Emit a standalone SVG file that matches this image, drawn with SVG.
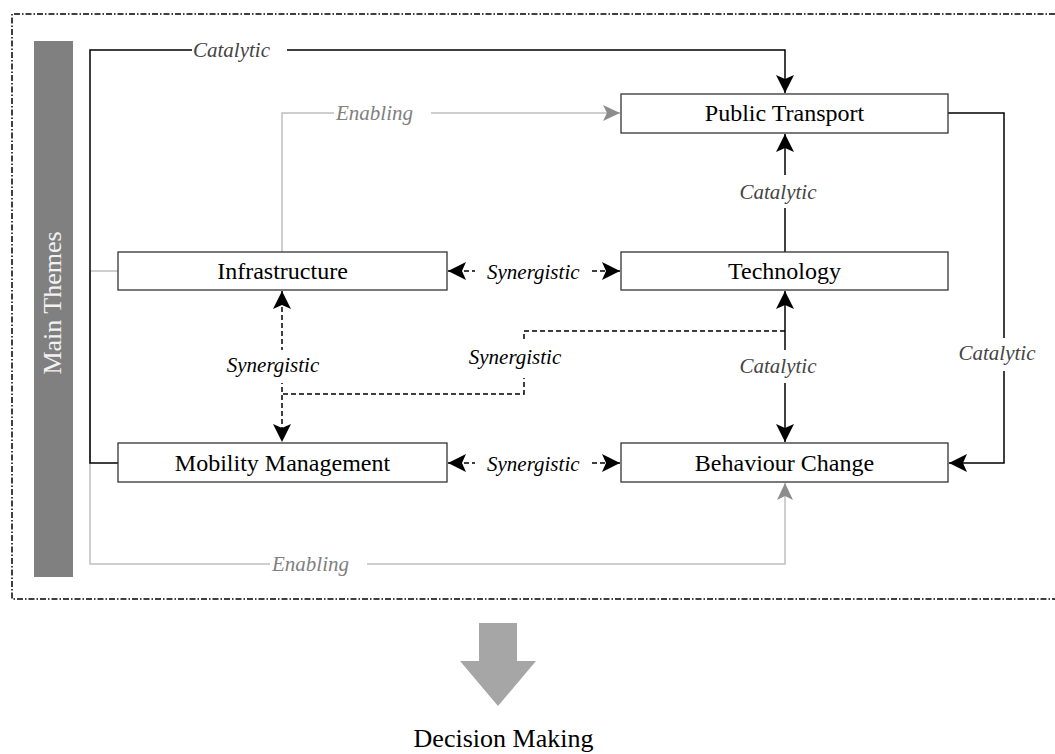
<svg xmlns="http://www.w3.org/2000/svg" width="1055" height="754" viewBox="0 0 1055 754">
<style>
.box{fill:#fff;stroke:#333;stroke-width:1.3}
.nt{font-family:"Liberation Serif","Times New Roman",serif;font-size:24px;fill:#000;text-anchor:middle}
.lbl{font-family:"Liberation Serif","Times New Roman",serif;font-size:21px;font-style:italic}
.cat{fill:#444}
.ena{fill:#808080}
.syn{fill:#000}
.blk{fill:none;stroke:#000;stroke-width:1.5}
.gry{fill:none;stroke:#bfbfbf;stroke-width:1.5}
.dsh{fill:none;stroke:#000;stroke-width:1.5;stroke-dasharray:5,3}
.gap{fill:#fff;stroke:none}
</style>
<defs>
<marker id="ab" markerUnits="userSpaceOnUse" viewBox="-20 -10 21 20" refX="0" refY="0" markerWidth="21" markerHeight="20" orient="auto-start-reverse">
<path d="M0,0 L-18,-9 L-14,0 L-18,9 Z" fill="#000"/>
</marker>
<marker id="ag" markerUnits="userSpaceOnUse" viewBox="-20 -10 21 20" refX="0" refY="0" markerWidth="21" markerHeight="20" orient="auto-start-reverse">
<path d="M0,0 L-17,-8 L-13,0 L-17,8 Z" fill="#8c8c8c"/>
</marker>
</defs>
<rect width="1055" height="754" fill="#fff"/>
<g id="frame">
<path d="M1055,14 H12 V599 H1055" fill="none" stroke="#000" stroke-width="1.5" stroke-dasharray="6,2,1.5,2"/>
<rect x="34" y="41" width="39" height="536" fill="#808080"/>
<text transform="translate(61,303) rotate(-90)" font-family="'Liberation Serif','Times New Roman',serif" font-size="26" fill="#f2f2f2" text-anchor="middle">Main Themes</text>
</g>
<g id="connectors">
<path class="gry" d="M118,271 H90 V564 H785 V483" marker-end="url(#ag)"/>
<path class="gry" d="M282,252 V113 H620" marker-end="url(#ag)"/>
<path class="blk" d="M118,463 H90 V50 H785 V93" marker-end="url(#ab)"/>
<path class="blk" d="M785,252 V134" marker-end="url(#ab)"/>
<path class="blk" d="M948,113 H1004 V463 H949" marker-end="url(#ab)"/>
<path class="blk" d="M785,291 V442" marker-start="url(#ab)" marker-end="url(#ab)"/>
<path class="dsh" d="M448,271 H620" marker-start="url(#ab)" marker-end="url(#ab)"/>
<path class="dsh" d="M448,463 H620" marker-start="url(#ab)" marker-end="url(#ab)"/>
<path class="dsh" d="M282,291 V442" marker-start="url(#ab)" marker-end="url(#ab)"/>
<path class="dsh" d="M785,331 H524 V394 H282"/>
<rect class="gap" x="192" y="40" width="95" height="20"/>
<rect class="gap" x="334" y="103" width="97" height="20"/>
<rect class="gap" x="775" y="175" width="20" height="33"/>
<rect class="gap" x="994" y="338" width="20" height="33"/>
<rect class="gap" x="775" y="350" width="20" height="33"/>
<rect class="gap" x="475" y="262" width="117" height="19"/>
<rect class="gap" x="475" y="454" width="117" height="19"/>
<rect class="gap" x="272" y="350" width="20" height="33"/>
<rect class="gap" x="514" y="340" width="20" height="38"/>
<rect class="gap" x="270" y="554" width="97" height="20"/>
<text class="lbl cat" x="193" y="57">Catalytic</text>
<text class="lbl ena" x="336" y="120">Enabling</text>
<text class="lbl cat" x="778" y="199" text-anchor="middle">Catalytic</text>
<text class="lbl cat" x="997" y="360" text-anchor="middle">Catalytic</text>
<text class="lbl cat" x="778" y="373" text-anchor="middle">Catalytic</text>
<text class="lbl syn" x="487" y="279">Synergistic</text>
<text class="lbl syn" x="487" y="471">Synergistic</text>
<text class="lbl syn" x="273" y="372" text-anchor="middle">Synergistic</text>
<text class="lbl syn" x="515" y="364" text-anchor="middle">Synergistic</text>
<text class="lbl ena" x="272" y="571">Enabling</text>
</g>
<g id="public-transport">
<rect class="box" x="621" y="94" width="327" height="39"/>
<text class="nt" x="784.5" y="121">Public Transport</text>
</g>
<g id="infrastructure">
<rect class="box" x="118" y="252" width="329" height="38"/>
<text class="nt" x="282.5" y="279">Infrastructure</text>
</g>
<g id="technology">
<rect class="box" x="621" y="252" width="327" height="38"/>
<text class="nt" x="784.5" y="279">Technology</text>
</g>
<g id="mobility-management">
<rect class="box" x="118" y="443" width="329" height="39"/>
<text class="nt" x="282.5" y="471">Mobility Management</text>
</g>
<g id="behaviour-change">
<rect class="box" x="621" y="443" width="327" height="39"/>
<text class="nt" x="784.5" y="471">Behaviour Change</text>
</g>
<g id="decision-making">
<polygon points="479,623 517,623 517,661 536,661 498,706 460,661 479,661" fill="#a6a6a6"/>
<text x="503.5" y="747" font-family="'Liberation Serif','Times New Roman',serif" font-size="26" fill="#000" text-anchor="middle">Decision Making</text>
</g>
</svg>
